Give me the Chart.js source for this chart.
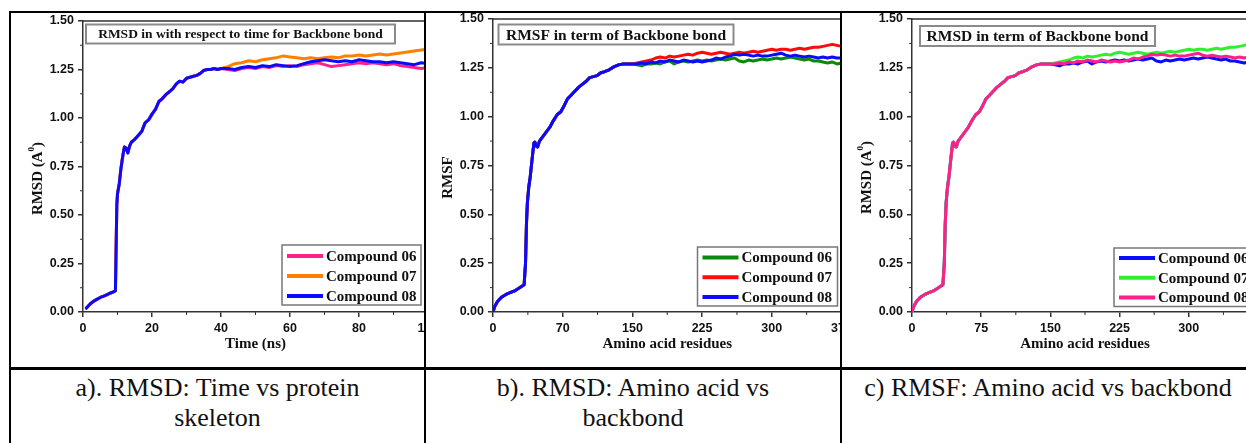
<!DOCTYPE html>
<html>
<head>
<meta charset="utf-8">
<script src="https://cdn.jsdelivr.net/npm/chart.js"></script>
<style>
  body {
    margin: 0;
    width: 1246px;
    height: 443px;
    position: relative;
    overflow: hidden;
    background: #fff;
  }
  .rule { position: absolute; background: #000; z-index: 2; }
  .panel { position: absolute; top: 12px; height: 355px; overflow: hidden; }
  .panel canvas { position: absolute; left: 0; top: 0; }
  .caption {
    position: absolute;
    top: 373px;
    font-family: "Liberation Serif", "Times New Roman", serif;
    font-size: 26px;
    line-height: 30px;
    text-align: center;
    white-space: nowrap;
    color: #111;
  }
</style>
</head>
<body>

<div class="rule" style="left:9px; top:11px; width:1237px; height:2px;"></div>
<div class="rule" style="left:9px; top:11px; width:2px; height:432px;"></div>
<div class="rule" style="left:424px; top:11px; width:2px; height:432px;"></div>
<div class="rule" style="left:840px; top:11px; width:2px; height:432px;"></div>
<div class="rule" style="left:9px; top:367px; width:1237px; height:3px;"></div>

<div class="panel" style="left:11px; width:413px;"><canvas id="chartA" width="440" height="356"></canvas></div>
<div class="panel" style="left:426px; width:414px;"><canvas id="chartB" width="440" height="356"></canvas></div>
<div class="panel" style="left:842px; width:404px;"><canvas id="chartC" width="440" height="356"></canvas></div>

<div class="caption" style="left:11px; width:413px;">a). RMSD: Time vs protein<br>skeleton</div>
<div class="caption" style="left:426px; width:414px;">b). RMSD: Amino acid vs<br>backbond</div>
<div class="caption" style="left:842px; width:412px;">c) RMSF: Amino acid vs backbond</div>

<script>
// ---------- data ----------
const compoundNames = ['Compound 06', 'Compound 07', 'Compound 08'];
const yTickLabels = ['0.00', '0.25', '0.50', '0.75', '1.00', '1.25', '1.50'];
const timeTickLabels = ['0', '20', '40', '60', '80', '100'];
const residueTickLabelsB = ['0', '70', '150', '225', '300', '375'];
const residueTickLabelsC = ['0', '75', '150', '225', '300', '375'];

// panel a: RMSD against time (ns); all three compounds overlap until ~40 ns
const riseTime = [1, 2, 3, 4, 5, 6, 7, 8, 9, 9.4, 9.8, 10, 10.5, 11, 11.5, 12, 12.5, 13, 13.5,
  14, 15, 16, 17, 18, 19, 20, 21, 22, 23, 24, 25, 26, 27, 28, 29, 30, 31, 32, 33, 34, 35, 36, 37, 38, 39, 40];
const riseRmsd = [0.02, 0.04, 0.055, 0.065, 0.075, 0.082, 0.09, 0.098, 0.105, 0.11, 0.55, 0.61, 0.66, 0.74, 0.80, 0.85, 0.845, 0.82, 0.855,
  0.875, 0.89, 0.91, 0.93, 0.975, 0.99, 1.02, 1.045, 1.085, 1.10, 1.12, 1.135, 1.15, 1.175, 1.19, 1.185, 1.205, 1.21, 1.215, 1.22, 1.23, 1.245, 1.25, 1.25, 1.255, 1.25, 1.255];
const tailTime = [42, 44, 46, 48, 50, 52, 54, 56, 58, 60, 62, 64, 66, 68, 70, 72, 74, 76, 78, 80, 82, 84, 86, 88, 90, 92, 94, 96, 98, 100];
const rmsdTime06 = [1.25, 1.245, 1.255, 1.26, 1.255, 1.265, 1.26, 1.27, 1.265, 1.27, 1.265, 1.275, 1.28, 1.285, 1.275,
  1.265, 1.27, 1.275, 1.28, 1.285, 1.28, 1.285, 1.28, 1.275, 1.28, 1.27, 1.265, 1.26, 1.255, 1.26];
const rmsdTime07 = [1.265, 1.28, 1.285, 1.295, 1.29, 1.30, 1.305, 1.31, 1.32, 1.315, 1.31, 1.305, 1.31, 1.305, 1.31,
  1.315, 1.31, 1.32, 1.32, 1.325, 1.32, 1.325, 1.33, 1.325, 1.33, 1.335, 1.34, 1.345, 1.35, 1.355];
const rmsdTime08 = [1.255, 1.25, 1.26, 1.265, 1.26, 1.27, 1.265, 1.275, 1.27, 1.265, 1.27, 1.28, 1.29, 1.295, 1.30,
  1.295, 1.29, 1.295, 1.29, 1.30, 1.295, 1.29, 1.29, 1.285, 1.29, 1.285, 1.28, 1.275, 1.285, 1.28];

// panels b and c: against amino acid residue; overlap until ~150
const riseResidue = [0, 2, 5, 9, 14, 19, 24, 29, 33.5, 35, 36, 37, 38.5, 40, 42, 44, 45, 46.5, 48, 50, 54, 57, 61, 65, 69,
  73, 77, 80, 84, 88, 92, 96, 100, 104, 108, 112, 116, 120, 125, 130, 135, 140, 145, 150];
const riseResidueVal = [0, 0.03, 0.055, 0.075, 0.09, 0.1, 0.11, 0.125, 0.14, 0.25, 0.45, 0.56, 0.64, 0.69, 0.78, 0.865, 0.87, 0.85, 0.845, 0.875, 0.90, 0.92, 0.945, 0.98, 1.01,
  1.025, 1.06, 1.09, 1.11, 1.13, 1.15, 1.165, 1.18, 1.2, 1.205, 1.21, 1.225, 1.23, 1.24, 1.255, 1.265, 1.27, 1.27, 1.27];
const tailResidue = [155, 160, 165, 170, 175, 180, 185, 190, 195, 200, 205, 210, 215, 220, 225, 230, 235, 240, 245, 250, 255, 260, 265,
  270, 275, 280, 285, 290, 295, 300, 305, 310, 315, 320, 325, 330, 335, 340, 345, 350, 355, 360, 365, 370, 375];
const residue06 = [1.265, 1.26, 1.27, 1.27, 1.275, 1.27, 1.28, 1.285, 1.27, 1.28, 1.285, 1.28, 1.285, 1.29, 1.285, 1.29, 1.285, 1.29, 1.295, 1.29, 1.295, 1.30, 1.285,
  1.28, 1.29, 1.285, 1.29, 1.295, 1.29, 1.295, 1.30, 1.295, 1.30, 1.305, 1.30, 1.295, 1.29, 1.295, 1.285, 1.285, 1.28, 1.275, 1.28, 1.27, 1.275];
const residue07 = [1.275, 1.28, 1.285, 1.29, 1.30, 1.305, 1.30, 1.31, 1.305, 1.31, 1.315, 1.32, 1.315, 1.325, 1.33, 1.325, 1.32, 1.325, 1.33, 1.325, 1.32, 1.325, 1.33,
  1.325, 1.33, 1.335, 1.33, 1.335, 1.34, 1.345, 1.34, 1.345, 1.345, 1.34, 1.345, 1.35, 1.345, 1.35, 1.355, 1.355, 1.36, 1.365, 1.37, 1.365, 1.36];
const residue08 = [1.27, 1.275, 1.27, 1.28, 1.275, 1.285, 1.28, 1.29, 1.285, 1.28, 1.29, 1.285, 1.28, 1.285, 1.28, 1.285, 1.29, 1.30, 1.295, 1.305, 1.31, 1.32, 1.315,
  1.32, 1.315, 1.31, 1.315, 1.31, 1.31, 1.315, 1.32, 1.325, 1.315, 1.31, 1.315, 1.31, 1.305, 1.31, 1.305, 1.30, 1.305, 1.30, 1.305, 1.30, 1.30];

// ---------- drawing ----------
const axisColor = '#333';
const serif = '"Liberation Serif", "Times New Roman", serif';
const tickFont = { family: '"Liberation Sans", Arial, sans-serif', size: 12.5, weight: 'bold' };

function points(xs, ys) {
  return xs.map((x, i) => ({ x: x, y: ys[i] }));
}

// frame, minor ticks, boxed title, legend and axis titles
const panelDecor = {
  id: 'panelDecor',
  afterDraw(chart, args, o) {
    const { ctx, chartArea: a, scales } = chart;
    ctx.save();

    ctx.strokeStyle = axisColor;
    ctx.lineWidth = 1.5;
    ctx.beginPath();
    ctx.moveTo(a.left, a.top);
    ctx.lineTo(a.right, a.top);
    ctx.lineTo(a.right, a.bottom);
    ctx.stroke();

    ctx.lineWidth = 1;
    ctx.beginPath();
    const xt = scales.x.ticks, yt = scales.y.ticks;
    for (let i = 0; i < xt.length - 1; i++) {
      const px = scales.x.getPixelForValue((xt[i].value + xt[i + 1].value) / 2);
      ctx.moveTo(px, a.bottom);
      ctx.lineTo(px, a.bottom + 3);
    }
    for (let i = 0; i < yt.length - 1; i++) {
      const py = scales.y.getPixelForValue((yt[i].value + yt[i + 1].value) / 2);
      ctx.moveTo(a.left, py);
      ctx.lineTo(a.left - 3, py);
    }
    ctx.stroke();

    // title box
    const t = o.titleBox;
    const bx = a.left + t.dx, by = a.top + t.dy;
    ctx.fillStyle = '#fff';
    ctx.fillRect(bx, by, t.w, t.h);
    ctx.strokeStyle = '#8a8a8a';
    ctx.lineWidth = 2;
    ctx.strokeRect(bx, by, t.w, t.h);
    ctx.fillStyle = '#111';
    ctx.font = 'bold ' + t.size + 'px ' + serif;
    ctx.textAlign = 'center';
    ctx.textBaseline = 'middle';
    ctx.fillText(t.text, bx + t.w / 2, by + t.h / 2 + 1);

    // legend
    const L = o.legend;
    const lx = a.right - L.rightInset - L.w, ly = a.bottom - L.bottomInset - L.h;
    ctx.fillStyle = '#fff';
    ctx.fillRect(lx, ly, L.w, L.h);
    ctx.strokeStyle = '#777';
    ctx.lineWidth = 1.5;
    ctx.strokeRect(lx, ly, L.w, L.h);
    ctx.font = 'bold 15px ' + serif;
    ctx.textAlign = 'left';
    chart.data.datasets.forEach((ds, i) => {
      const cy = ly + L.firstRow + i * L.rowGap;
      ctx.strokeStyle = ds.borderColor;
      ctx.lineWidth = 4;
      ctx.beginPath();
      ctx.moveTo(lx + 5, cy);
      ctx.lineTo(lx + 41, cy);
      ctx.stroke();
      ctx.fillStyle = '#111';
      ctx.fillText(ds.label, lx + 44, cy + 1);
    });

    // x title
    ctx.font = 'bold 15px ' + serif;
    ctx.textAlign = 'center';
    ctx.fillStyle = '#111';
    ctx.fillText(o.xTitle, (a.left + a.right) / 2, a.bottom + 32);

    // y title, rotated, with optional superscript
    const y = o.yTitle;
    ctx.translate(a.left - 46, (a.top + a.bottom) / 2 + 12);
    ctx.rotate(-Math.PI / 2);
    ctx.textAlign = 'left';
    ctx.font = 'bold 15px ' + serif;
    const w1 = ctx.measureText(y.base).width;
    const w3 = ctx.measureText(y.tail).width;
    ctx.font = 'bold 9px ' + serif;
    const w2 = ctx.measureText(y.sup).width;
    let cx = -(w1 + w2 + w3) / 2;
    ctx.font = 'bold 15px ' + serif;
    ctx.fillText(y.base, cx, 1);
    cx += w1;
    ctx.font = 'bold 9px ' + serif;
    ctx.fillText(y.sup, cx, -5);
    cx += w2;
    ctx.font = 'bold 15px ' + serif;
    ctx.fillText(y.tail, cx, 1);

    ctx.restore();
  }
};

function buildChart(id, p) {
  return new Chart(document.getElementById(id), {
    type: 'line',
    data: {
      datasets: p.series.map((s, i) => ({
        label: compoundNames[i],
        data: s,
        borderColor: p.colors[i],
        backgroundColor: p.colors[i],
        borderWidth: 3,
        pointRadius: 0,
        tension: 0,
        fill: false,
        order: 2 - i,
        borderJoinStyle: 'round',
        borderCapStyle: 'round'
      }))
    },
    options: {
      responsive: false,
      animation: false,
      events: [],
      layout: { autoPadding: false, padding: { left: 0, top: p.padTop, right: p.padRight, bottom: 0 } },
      plugins: {
        legend: { display: false },
        tooltip: { enabled: false },
        panelDecor: p.decor
      },
      scales: {
        x: {
          type: 'linear',
          min: 0,
          max: p.xMax,
          afterFit: s => { s.height = p.xHeight; s.paddingLeft = 0; s.paddingRight = 0; },
          grid: { drawOnChartArea: false, drawTicks: true, tickLength: 5, color: axisColor, lineWidth: 1.5 },
          border: { display: true, color: axisColor, width: 1.5 },
          ticks: {
            stepSize: p.xStep,
            autoSkip: false,
            maxRotation: 0,
            padding: 4,
            font: tickFont,
            color: '#111',
            callback: (v, i) => p.xLabels[i]
          }
        },
        y: {
          min: 0,
          max: 1.5,
          afterFit: s => { s.width = p.yWidth; s.paddingTop = 0; s.paddingBottom = 0; },
          grid: { drawOnChartArea: false, drawTicks: true, tickLength: 5, color: axisColor, lineWidth: 1.5 },
          border: { display: true, color: axisColor, width: 1.5 },
          ticks: {
            stepSize: 0.25,
            autoSkip: false,
            padding: 4,
            font: tickFont,
            color: '#111',
            callback: (v, i) => yTickLabels[i]
          }
        }
      }
    },
    plugins: [panelDecor]
  });
}

const timeAll = riseTime.concat(tailTime);
const residueAll = riseResidue.concat(tailResidue);

buildChart('chartA', {
  series: [
    points(timeAll, riseRmsd.concat(rmsdTime06)),
    points(timeAll, riseRmsd.concat(rmsdTime07)),
    points(timeAll, riseRmsd.concat(rmsdTime08))
  ],
  colors: ['#ff1f8c', '#ff8000', '#0a0aff'],
  xMax: 100, xStep: 20, xLabels: timeTickLabels,
  padTop: 9, padRight: 23, yWidth: 72, xHeight: 56,
  decor: {
    titleBox: { text: 'RMSD in with respect to time for Backbone bond', size: 13.5, dx: 3, dy: 3.5, w: 309, h: 19 },
    legend: { rightInset: 7, bottomInset: 7, w: 139, h: 60, firstRow: 11, rowGap: 20 },
    xTitle: 'Time (ns)',
    yTitle: { base: 'RMSD (A', sup: '0', tail: ')' }
  }
});

buildChart('chartB', {
  series: [
    points(residueAll, riseResidueVal.concat(residue06)),
    points(residueAll, riseResidueVal.concat(residue07)),
    points(residueAll, riseResidueVal.concat(residue08))
  ],
  colors: ['#0a8a0a', '#ff0a0a', '#0a0aff'],
  xMax: 375, xStep: 75, xLabels: residueTickLabelsB,
  padTop: 7, padRight: 24.5, yWidth: 67, xHeight: 56,
  decor: {
    titleBox: { text: 'RMSF in term of Backbone bond', size: 15.5, dx: 5.5, dy: 5.5, w: 235, h: 20 },
    legend: { rightInset: 4, bottomInset: 6, w: 140, h: 59, firstRow: 10.5, rowGap: 19.7 },
    xTitle: 'Amino acid residues',
    yTitle: { base: 'RMSF', sup: '', tail: '' }
  }
});

buildChart('chartC', {
  series: [
    points(residueAll, riseResidueVal.concat(residue06)),
    points(residueAll, riseResidueVal.concat(residue07)),
    points(residueAll, riseResidueVal.concat(residue08))
  ],
  colors: ['#0a0aff', '#2ef02e', '#ff1f8c'],
  xMax: 375, xStep: 75, xLabels: residueTickLabelsC,
  padTop: 7, padRight: 24, yWidth: 70, xHeight: 56,
  decor: {
    titleBox: { text: 'RMSD in term of Backbone bond', size: 15.5, dx: 8, dy: 7, w: 235, h: 20 },
    legend: { rightInset: 4, bottomInset: 5.5, w: 140, h: 58.5, firstRow: 10, rowGap: 19.7 },
    xTitle: 'Amino acid residues',
    yTitle: { base: 'RMSD (A', sup: '0', tail: ')' }
  }
});
</script>
</body>
</html>
